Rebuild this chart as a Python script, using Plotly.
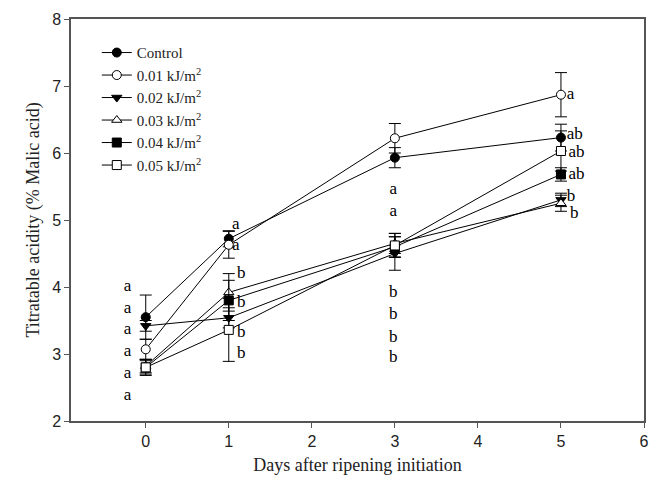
import plotly.graph_objects as go

days = [0, 1, 3, 5]
series_names = ["Control", "0.01 kJ/m<sup>2</sup>", "0.02 kJ/m<sup>2</sup>",
                "0.03 kJ/m<sup>2</sup>", "0.04 kJ/m<sup>2</sup>", "0.05 kJ/m<sup>2</sup>"]
control = [3.55, 4.72, 5.93, 6.23]
dose_001 = [3.07, 4.63, 6.22, 6.87]
dose_002 = [3.42, 3.54, 4.50, 5.30]
dose_003 = [2.82, 3.92, 4.65, 5.25]
dose_004 = [2.80, 3.80, 4.60, 5.68]
dose_005 = [2.80, 3.36, 4.62, 6.03]
err_control = [0.33, 0.12, 0.15, 0.20]
err_001 = [0.15, 0.20, 0.22, 0.33]
err_002 = [0.08, 0.15, 0.25, 0.10]
err_003 = [0.10, 0.28, 0.15, 0.12]
err_004 = [0.10, 0.30, 0.15, 0.10]
err_005 = [0.12, 0.47, 0.18, 0.30]

# significance letters
letters_day0 = ["a", "a", "a", "a", "a", "a"]
letters_day0_y = [4.00, 3.68, 3.36, 3.03, 2.70, 2.38]
letters_day1 = ["a", "a", "b", "b", "b", "b"]
letters_day1_y = [4.93, 4.61, 4.20, 3.76, 3.31, 3.00]
letters_day3 = ["a", "a", "b", "b", "b", "b"]
letters_day3_y = [5.45, 5.12, 3.91, 3.58, 3.25, 2.94]
letters_day5 = ["a", "ab", "ab", "ab", "b", "b"]
letters_day5_y = [6.87, 6.27, 6.01, 5.67, 5.34, 5.09]

values = [control, dose_001, dose_002, dose_003, dose_004, dose_005]
errors = [err_control, err_001, err_002, err_003, err_004, err_005]
symbols = ["circle", "circle", "triangle-down", "triangle-up", "square", "square"]
fills = ["black", "white", "black", "white", "black", "white"]

fig = go.Figure()
for i, (name, v, e, s, f) in enumerate(zip(series_names, values, errors, symbols, fills)):
    fig.add_trace(go.Scatter(
        x=days, y=v, name=name, mode="lines+markers",
        legendgroup=str(i),
        line=dict(color="black", width=1),
        marker=dict(symbol=s, size=9, color=f, line=dict(color="black", width=1)),
        error_y=dict(type="data", array=e, color="black", thickness=1, width=6),
    ))

letter_font = dict(family="Liberation Serif, Times New Roman, serif", size=17, color="black")
fig.add_trace(go.Scatter(x=[-0.22] * 6, y=letters_day0_y, text=letters_day0, mode="text",
                         textfont=letter_font, showlegend=False, hoverinfo="skip"))
fig.add_trace(go.Scatter(x=[1.04, 1.04, 1.1, 1.1, 1.1, 1.1], y=letters_day1_y, text=letters_day1,
                         mode="text", textfont=letter_font, textposition="middle right",
                         showlegend=False, hoverinfo="skip"))
fig.add_trace(go.Scatter(x=[2.98] * 6, y=letters_day3_y, text=letters_day3, mode="text",
                         textfont=letter_font, showlegend=False, hoverinfo="skip"))
fig.add_trace(go.Scatter(x=[5.07, 5.07, 5.09, 5.09, 5.07, 5.11], y=letters_day5_y, text=letters_day5,
                         mode="text", textfont=letter_font, textposition="middle right",
                         showlegend=False, hoverinfo="skip"))

axis_common = dict(showline=True, linecolor="#555", linewidth=1.5, mirror=True, automargin=False,
                   ticks="outside", ticklen=5, tickcolor="#555", showgrid=False, zeroline=False,
                   tickfont=dict(family="Liberation Sans, Arial, sans-serif", size=16, color="#222"))
title_font = dict(family="Liberation Serif, Times New Roman, serif", size=18, color="#222")
fig.update_xaxes(range=[-0.9, 6], tickvals=[0, 1, 2, 3, 4, 5, 6],
                 title=dict(text="Days after ripening initiation", font=title_font, standoff=9),
                 **axis_common)
fig.update_yaxes(range=[2, 8], tickvals=[2, 3, 4, 5, 6, 7, 8],
                 title=dict(text="Titratable acidity (% Malic acid)", font=title_font, standoff=8),
                 **axis_common)
fig.update_layout(
    width=650, height=471,
    margin=dict(l=63, r=14, t=11, b=58),
    plot_bgcolor="white", paper_bgcolor="white",
    legend=dict(x=0.045, y=0.957, xanchor="left", yanchor="top", tracegroupgap=0,
                font=dict(family="Liberation Serif, Times New Roman, serif", size=15, color="#222"),
                bgcolor="rgba(0,0,0,0)"),
)
fig.write_html("out.html")
